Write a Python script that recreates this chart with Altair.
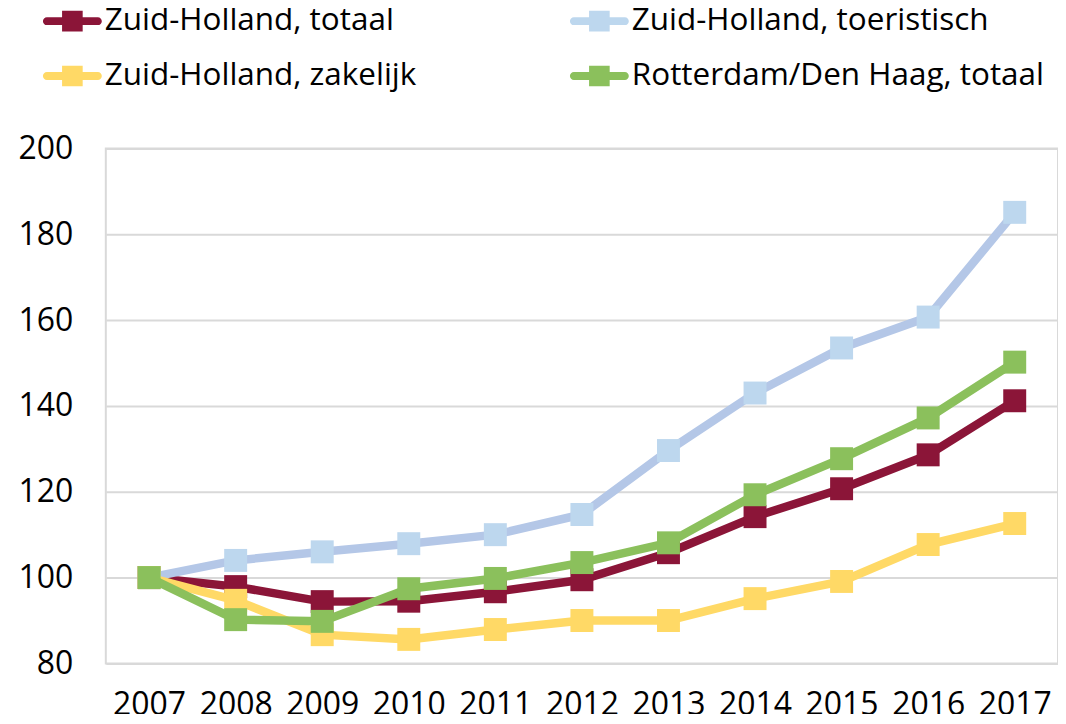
import altair as alt
import pandas as pd

years = [str(y) for y in range(2007, 2018)]
series_names = ["Zuid-Holland, totaal", "Zuid-Holland, toeristisch",
                "Zuid-Holland, zakelijk", "Rotterdam/Den Haag, totaal"]
totaal = [100, 97.9, 94.4, 94.5, 96.7, 99.5, 105.8, 114.2, 120.7, 128.6, 141.2]
toeristisch = [100, 104.0, 106.0, 107.9, 110.0, 114.7, 129.6, 143.0, 153.5, 160.7, 185.1]
zakelijk = [100, 94.7, 86.7, 85.6, 87.9, 90.0, 90.0, 95.1, 99.1, 107.7, 112.6]
rotterdam = [100, 90.2, 89.8, 97.4, 99.8, 103.5, 108.1, 119.3, 127.7, 137.2, 150.2]

line_colors = ["#8B1538", "#B4C7E7", "#FFD966", "#8BC05C"]
marker_colors = ["#8B1538", "#BDD7EE", "#FFD966", "#8BC05C"]

rows = []
for name, vals in zip(series_names, [totaal, toeristisch, zakelijk, rotterdam]):
    for y, v in zip(years, vals):
        rows.append({"year": y, "value": v, "series": name})
df = pd.DataFrame(rows)

FONT = "Open Sans"

x_enc = alt.X("year:O", scale=alt.Scale(type="point", padding=0.5),
              axis=alt.Axis(title=None, labelAngle=0, labelFontSize=32, labelFont=FONT,
                            labelColor="#000000", ticks=False, domain=False,
                            labelPadding=26, grid=False))
y_enc = alt.Y("value:Q", scale=alt.Scale(domain=[80, 200], nice=False, zero=False),
              axis=alt.Axis(title=None, values=[80, 100, 120, 140, 160, 180, 200],
                            labelFontSize=32, labelFont=FONT, labelColor="#000000",
                            ticks=False, domain=False, labelPadding=33,
                            gridColor="#D9D9D9", gridWidth=2))

symbol_path = ("M-0.865,-0.135 L0.865,-0.135 A0.135,0.135 0 0 1 0.865,0.135 "
               "L-0.865,0.135 A0.135,0.135 0 0 1 -0.865,-0.135 Z "
               "M-0.35,-0.35 L0.35,-0.35 L0.35,0.35 L-0.35,0.35 Z")

color_enc = alt.Color("series:N",
                      scale=alt.Scale(domain=series_names, range=marker_colors),
                      legend=alt.Legend(title=None, orient="none", legendX=-63, legendY=-157,
                                        direction="horizontal", columns=2,
                                        symbolType=symbol_path, symbolSize=3481,
                                        symbolStrokeWidth=0, labelFontSize=31.5,
                                        labelFont=FONT, labelColor="#000000",
                                        labelOffset=3, columnPadding=153,
                                        rowPadding=10, labelLimit=700))

layers = []
for i, name in enumerate(series_names):
    base = alt.Chart(df).transform_filter(alt.datum.series == name)
    layers.append(base.mark_line(color=line_colors[i], strokeWidth=8.5).encode(x=x_enc, y=y_enc))
    layers.append(base.mark_point(shape="square", filled=True, size=529, opacity=1).encode(
        x=x_enc, y=y_enc, color=color_enc))

chart = alt.layer(*layers).properties(
    width=954, height=516,
    autosize=alt.AutoSizeParams(type="none"),
    padding={"left": 98, "top": 140, "right": 0, "bottom": 50},
).configure_view(stroke="#D9D9D9", strokeWidth=2)

chart.save("out.html", embed_options={"renderer": "svg", "actions": False})
